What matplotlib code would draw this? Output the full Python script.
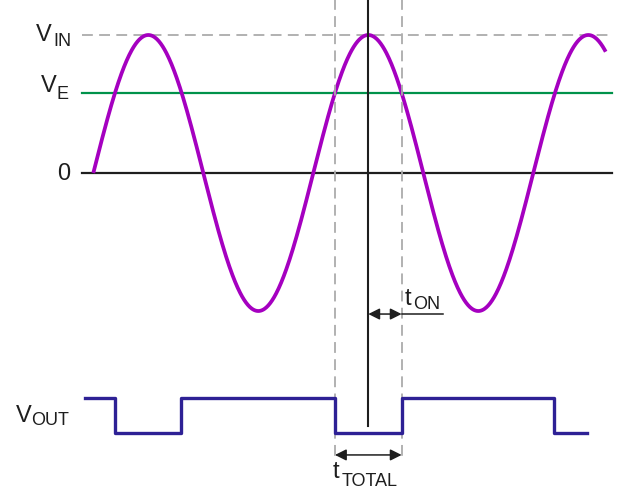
import numpy as np
import matplotlib
matplotlib.use("Agg")
import matplotlib.pyplot as plt

# phase axis in degrees, voltage in units of V_IN
V_IN = 1.0
V_E = 0.58
sine_start, sine_end = 0.0, 838.5
peak_phase = 450.0

# comparator output (low while input above V_E)
vout_t = [-13.6, 35.5, 144.0, 395.5, 504.5, 754.0, 808.0]
vout_level = [-1.63, -1.884, -1.63, -1.884, -1.63, -1.884, -1.884]

line_x = (-18.5, 848.8)

W, H = 626, 494
fig = plt.figure(figsize=(W / 100, H / 100), dpi=100)
ax = fig.add_axes([0, 0, 1, 1])
ax.set_xlim(-152.7, 871.7)
ax.set_ylim(-2.326, 1.2536)
ax.axis("off")

def px(x, y):
    # pixel position -> data, only for placing text
    return ax.transData.inverted().transform((x, H - y))

purple = "#A500C0"
navy = "#2E2195"
green = "#00924A"
grey = "#ABABAB"
ink = "#1E1E1E"

# reference levels
ax.plot(line_x, [V_IN, V_IN], color=grey, lw=1.3, dashes=(6, 3.5))
ax.plot(line_x, [V_E, V_E], color=green, lw=1.6)
ax.plot(line_x, [0, 0], color=ink, lw=1.6)

# input sine
t = np.linspace(sine_start, sine_end, 800)
ax.plot(t, V_IN * np.sin(np.radians(t)), color=purple, lw=2.7,
        solid_capstyle="butt")

# crossings around the middle peak
half = 90 - np.degrees(np.arcsin(V_E / V_IN))
t1, t2 = peak_phase - half, peak_phase + half
for x in (t1, t2):
    ax.plot([x, x], [1.26, -2.094], color=grey, lw=1.3, dashes=(6, 3.5))
ax.plot([peak_phase, peak_phase], [1.26, -1.833], color=ink, lw=1.5)

# output square wave
ax.step(vout_t, vout_level, where="post", color=navy, lw=2.4)

arrow = dict(arrowstyle="<|-|>", color=ink, lw=1.1,
             mutation_scale=17, shrinkA=0, shrinkB=0)
# t_ON arrow
y_on = -1.022
ax.plot([t2, 572.2], [y_on, y_on], color=ink, lw=1.1)
ax.annotate("", xy=(t2, y_on), xytext=(peak_phase, y_on), arrowprops=arrow)
# t_TOTAL arrow
y_tot = -2.043
ax.annotate("", xy=(t2, y_tot), xytext=(t1, y_tot), arrowprops=arrow)

fam = ["Liberation Sans", "DejaVu Sans"]
big, small = 17, 13

def label(main, sub, x_main, y_main, x_sub, y_sub):
    ax.text(*px(x_main, y_main), main, fontsize=big, color=ink, family=fam,
            ha="left", va="baseline")
    ax.text(*px(x_sub, y_sub), sub, fontsize=small, color=ink, family=fam,
            ha="left", va="baseline")

label("V", "IN", 36, 41, 53, 46)
label("V", "E", 41, 92, 57, 99)
ax.text(*px(70, 180), "0", fontsize=big, color=ink, family=fam,
        ha="right", va="baseline")
label("V", "OUT", 16, 422, 31, 425)
label("t", "ON", 405, 305, 413, 309)
label("t", "TOTAL", 333, 478, 342, 486)

fig.savefig("out.png", dpi=100)
